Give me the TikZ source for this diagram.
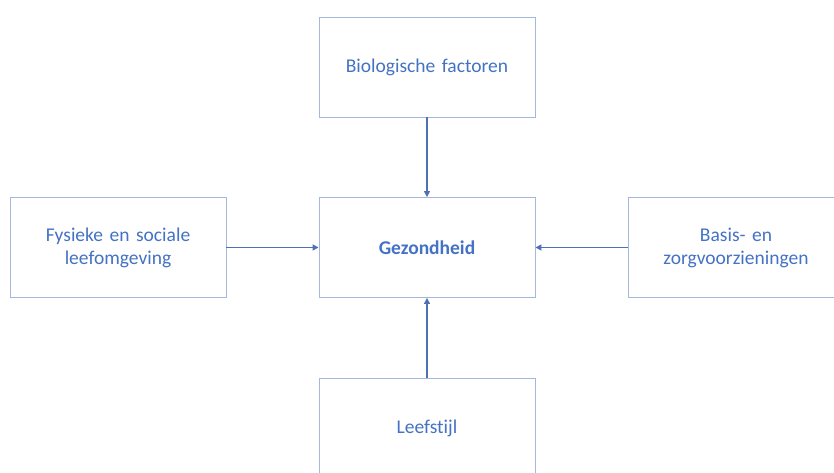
\documentclass[tikz,border=0pt]{standalone}
\usepackage{fontspec}
\setmainfont[Ligatures=NoCommon, WordSpace=0.75]{Carlito}
\usepackage{xcolor}
\usepackage{tikz}
\usetikzlibrary{arrows.meta, positioning}
\definecolor{mytext}{RGB}{68,114,196}
\definecolor{myframe}{RGB}{164,184,222}
\definecolor{myarrow}{RGB}{78,112,180}
\tikzstyle{factor} = [rectangle, draw=myframe, line width=0.9pt, minimum width=216pt, minimum height=100pt, text width=200pt, align=center, text=mytext, font=\fontsize{19.5}{23}\selectfont, inner sep=0pt]
\tikzstyle{arrow} = [myarrow, line width=1.4pt, -{Triangle[length=6pt,width=6pt]}]

\begin{document}
\begin{tikzpicture}[x=1pt, y=-1pt]
    \clip (0,0) rectangle (834,473);
    \fill[white] (0,0) rectangle (834,473);
    % centre and the four factors round it
    \node[factor] (health) at (427,247.5) {\textbf{Gezondheid}};
    \node[factor] (bio) at (427,67) {Biologische factoren};
    \node[factor] (env) at (118,247.5) {Fysieke en sociale\\leefomgeving};
    \node[factor] (care) at (736,247.5) {Basis- en\\zorgvoorzieningen};
    \node[factor] (life) at (427,428) {Leefstijl};
    % arrows into the centre
    \draw[arrow] (bio) -- (health);
    \draw[arrow] (env) -- (health);
    \draw[arrow] (care) -- (health);
    \draw[arrow] (life) -- (health);
\end{tikzpicture}
\end{document}
